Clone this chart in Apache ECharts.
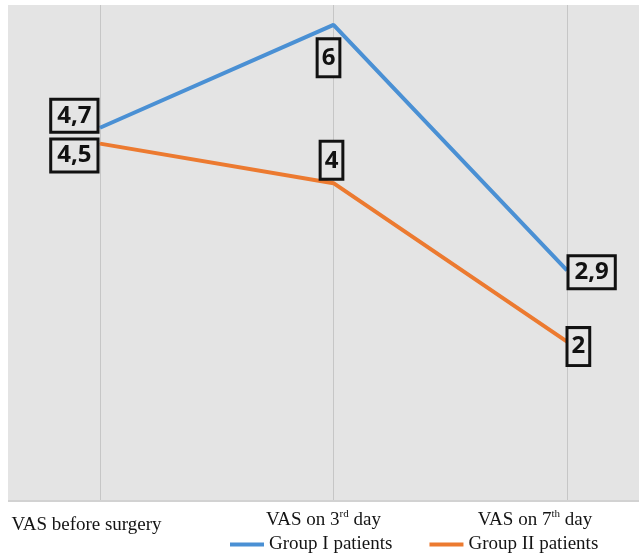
<!DOCTYPE html>
<html>
<head>
<meta charset="utf-8">
<script src="https://cdn.jsdelivr.net/npm/echarts@6/dist/echarts.min.js"></script>
<style>
  html, body { margin: 0; padding: 0; background: #fff; }
  #chart { width: 639px; height: 555px; }
</style>
</head>
<body>
<div id="chart"></div>
<script>
// VAS pain scores over time
const categories = ['VAS before surgery', 'VAS on 3rd day', 'VAS on 7th day'];
const groupOne = [4.7, 6, 2.9];
const groupTwo = [4.5, 4, 2];
const seriesNames = ['Group I patients', 'Group II patients'];

const BLUE = '#4a90d4';
const ORANGE = '#ec7a30';
const PANEL = '#e4e4e4';
const SERIF = '"Liberation Serif", "DejaVu Serif", serif';

// Per-label horizontal nudge (right padding) and vertical drop
const labelPadRight = [27, 20, 64];
const labelPadTop = [11, 0, 0];

function labelFmt(value, i) {
  const m = value.match(/^(.*\d)(st|nd|rd|th)(.*)$/);
  if (!m) return `{t${i}|${value}}`;
  return `{b${i}|${m[1]}}{s${i}|${m[2]}}{t${i}|${m[3]}}`;
}

const rich = {};
categories.forEach((c, i) => {
  const base = { fontFamily: SERIF, fontSize: 19, color: '#141414', lineHeight: 22 };
  rich['b' + i] = Object.assign({}, base, { padding: [labelPadTop[i], 0, 0, 0] });
  rich['t' + i] = Object.assign({}, base, { padding: [labelPadTop[i], labelPadRight[i], 0, 0] });
  rich['s' + i] = { fontFamily: SERIF, fontSize: 11, color: '#141414', verticalAlign: 'top', lineHeight: 12 };
});

const labelBox = {
  show: true,
  fontFamily: '"Open Sans", "Noto Sans", sans-serif',
  fontWeight: 'bold',
  fontSize: 24,
  color: '#111',
  backgroundColor: PANEL,
  borderColor: '#111',
  borderWidth: 3,
  padding: [1, 5, 1, 5],
  lineHeight: 28,
  formatter: p => String(p.value).replace('.', ',')
};
// single-digit boxes are taller and narrower
const tallBox = { padding: [4, 3, 3, 3] };

const chart = echarts.init(document.getElementById('chart'), null, { renderer: 'canvas' });
chart.setOption({
  animation: false,
  backgroundColor: '#ffffff',
  graphic: [
    { type: 'rect', z: -10, silent: true, shape: { x: 8, y: 5, width: 631, height: 495 }, style: { fill: PANEL } },
    { type: 'line', z: -9, silent: true, shape: { x1: 8, y1: 501, x2: 639, y2: 501 }, style: { stroke: '#d2d2d2', lineWidth: 2 } }
  ],
  grid: { left: 100, right: 72, top: 5, bottom: 55, containLabel: false, outerBoundsMode: 'none' },
  legend: {
    data: seriesNames,
    left: 225,
    top: 530,
    icon: 'rect',
    itemWidth: 34,
    itemHeight: 4,
    itemGap: 37,
    textStyle: { fontFamily: SERIF, fontSize: 19, color: '#141414' }
  },
  xAxis: {
    type: 'category',
    data: categories,
    boundaryGap: false,
    axisLine: { show: false },
    axisTick: { show: false },
    splitLine: { show: true, lineStyle: { color: '#c6c6c6', width: 1 } },
    axisLabel: {
      margin: 9,
      interval: 0,
      formatter: labelFmt,
      rich: rich
    }
  },
  yAxis: {
    type: 'value',
    min: 0,
    max: 6.25,
    show: false,
    splitLine: { show: false }
  },
  series: [
    {
      name: seriesNames[0],
      type: 'line',
      symbol: 'circle',
      symbolSize: 1,
      color: BLUE,
      lineStyle: { width: 4, color: BLUE },
      label: labelBox,
      z: 3,
      // individual label placement for each point
      data: [
        { value: groupOne[0], label: { position: 'left', distance: 3, offset: [0, -12] } },
        { value: groupOne[1], label: Object.assign({ position: 'bottom', distance: 15, offset: [-5, 0] }, tallBox) },
        { value: groupOne[2], label: { position: 'right', distance: 2, offset: [0, 2] } }
      ]
    },
    {
      name: seriesNames[1],
      type: 'line',
      symbol: 'circle',
      symbolSize: 1,
      color: ORANGE,
      lineStyle: { width: 4, color: ORANGE },
      label: labelBox,
      z: 2,
      data: [
        { value: groupTwo[0], label: { position: 'left', distance: 3, offset: [0, 12] } },
        { value: groupTwo[1], label: Object.assign({ position: 'top', distance: 5, offset: [-2, 0] }, tallBox) },
        { value: groupTwo[2], label: Object.assign({ position: 'right', distance: 1, offset: [0, 5] }, tallBox) }
      ]
    }
  ]
});
</script>
</body>
</html>
